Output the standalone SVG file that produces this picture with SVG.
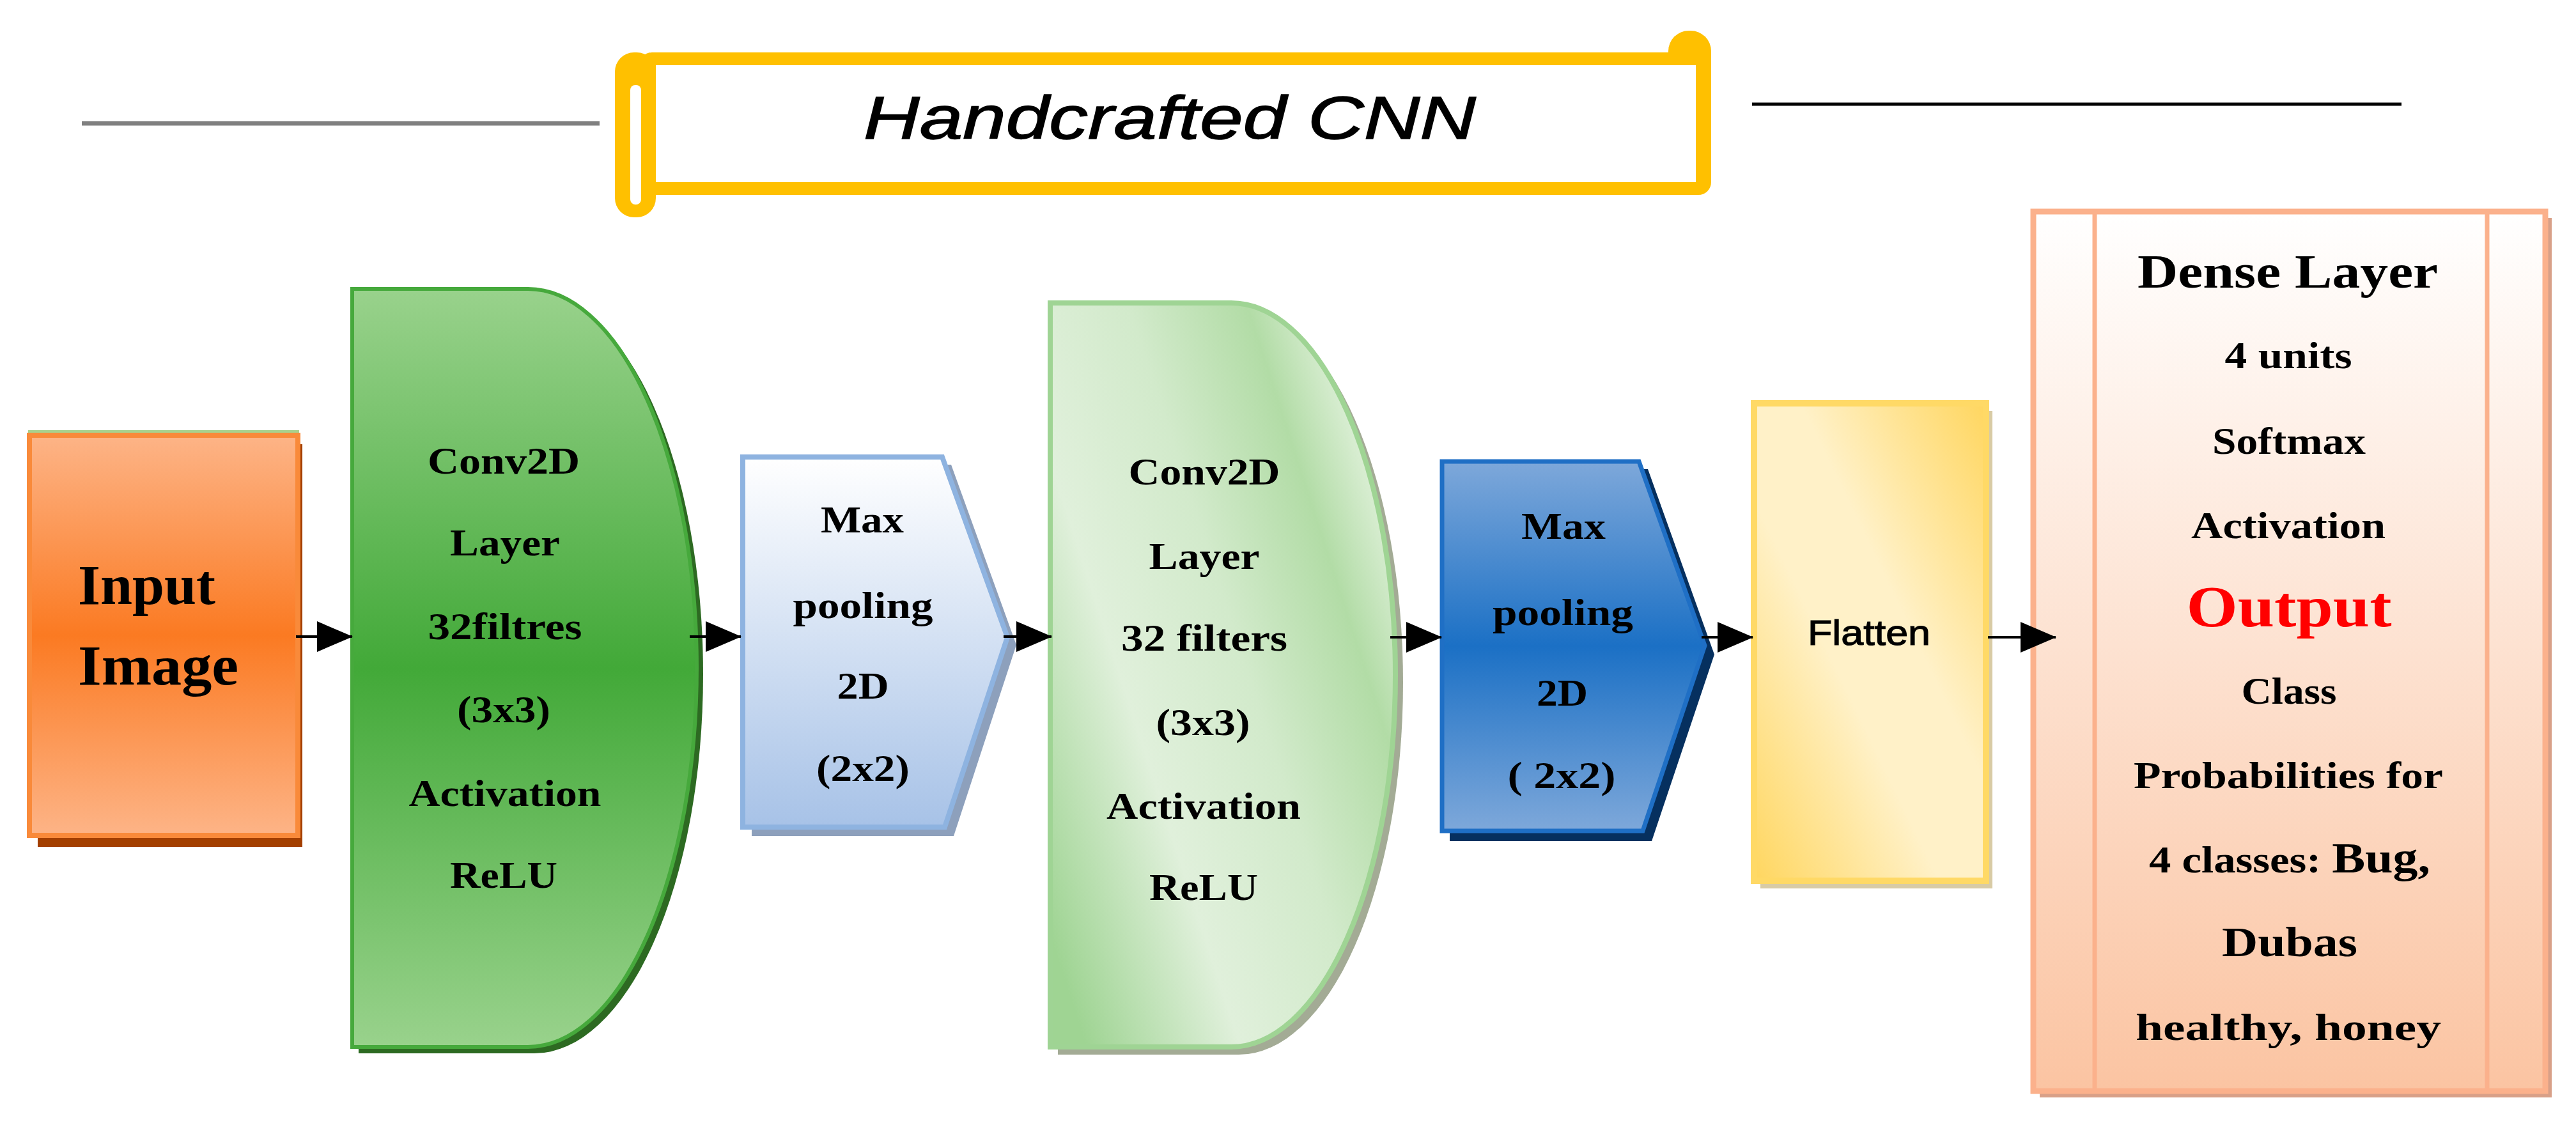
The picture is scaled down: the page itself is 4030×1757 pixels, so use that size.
<svg xmlns="http://www.w3.org/2000/svg" width="4030" height="1757" viewBox="0 0 4030 1757">
<defs>
  <linearGradient id="gIn" x1="0" y1="0" x2="0" y2="1">
    <stop offset="0" stop-color="#fdb487"/><stop offset="0.5" stop-color="#fb7a22"/><stop offset="1" stop-color="#fdb487"/>
  </linearGradient>
  <linearGradient id="gC1" x1="0" y1="0" x2="0" y2="1">
    <stop offset="0" stop-color="#99d28c"/><stop offset="0.5" stop-color="#42a938"/><stop offset="1" stop-color="#99d28c"/>
  </linearGradient>
  <linearGradient id="gC2" x1="0" y1="0.85" x2="1" y2="0.15">
    <stop offset="0" stop-color="#9fd493"/><stop offset="0.3" stop-color="#e0f0db"/><stop offset="0.55" stop-color="#d2eacb"/><stop offset="0.78" stop-color="#b2dca6"/><stop offset="0.92" stop-color="#dcefd6"/><stop offset="1" stop-color="#cbe7c3"/>
  </linearGradient>
  <linearGradient id="gM1" x1="0" y1="0" x2="0" y2="1">
    <stop offset="0" stop-color="#ffffff"/><stop offset="1" stop-color="#a7c2e7"/>
  </linearGradient>
  <linearGradient id="gM2" x1="0" y1="0" x2="0" y2="1">
    <stop offset="0" stop-color="#7ea8da"/><stop offset="0.5" stop-color="#1b70c5"/><stop offset="1" stop-color="#7ea8da"/>
  </linearGradient>
  <linearGradient id="gFl" x1="0" y1="1" x2="1" y2="0">
    <stop offset="0" stop-color="#ffd65f"/><stop offset="0.4" stop-color="#fff1c8"/><stop offset="0.6" stop-color="#fff1c8"/><stop offset="1" stop-color="#ffd65f"/>
  </linearGradient>
  <linearGradient id="gDe" x1="0" y1="0" x2="0" y2="1">
    <stop offset="0" stop-color="#ffffff"/><stop offset="1" stop-color="#fbc4a2"/>
  </linearGradient>
  <marker id="ah" markerUnits="userSpaceOnUse" markerWidth="56" markerHeight="48" refX="55" refY="24" orient="auto">
    <path d="M0,0 L56,24 L0,48 Z" fill="#000"/>
  </marker>
</defs>
<style>
  .t{font-family:"Liberation Serif","Times New Roman",serif;font-weight:bold;fill:#000;text-anchor:middle;font-size:60px}
  .big{font-size:88px;text-anchor:start}
  .hd{font-size:74px}
  .out{font-size:90px;fill:#ff0000}
  .mid{font-size:66px}
  .conn{stroke:#000;stroke-width:4;fill:none;marker-end:url(#ah)}
  .yl{fill:#ffc000}
</style>

<g id="title">
  <line x1="128" y1="193" x2="938" y2="193" stroke="#808080" stroke-width="7"/>
  <line x1="2741" y1="163" x2="3757" y2="163" stroke="#000" stroke-width="5"/>
  <rect class="yl" x="1000" y="82" width="1677" height="223" rx="20"/>
  <rect class="yl" x="2610" y="48" width="67" height="110" rx="32"/>
  <rect class="yl" x="962" y="82" width="64" height="258" rx="30"/>
  <rect x="1026" y="102" width="1627" height="183" fill="#fff"/>
  <rect x="986" y="133" width="17" height="187" rx="8" fill="#fff"/>
  <text x="1830" y="217" font-family="'Liberation Sans',Arial,sans-serif" font-style="italic" font-size="95" text-anchor="middle" textLength="958" lengthAdjust="spacingAndGlyphs" fill="#000" stroke="#000" stroke-width="1.5">Handcrafted CNN</text>
</g>

<g id="input">
  <rect x="59" y="695" width="414" height="630" fill="#a33f00"/>
  <rect x="44" y="673" width="424" height="8" fill="#a9d18e"/>
  <rect x="46" y="681" width="420" height="626" fill="url(#gIn)" stroke="#f98a3a" stroke-width="8"/>
  <text class="t big" x="122" y="945" textLength="215" lengthAdjust="spacingAndGlyphs">Input</text>
  <text class="t big" x="122" y="1071" textLength="251" lengthAdjust="spacingAndGlyphs">Image</text>
</g>

<g id="conv1">
  <path d="M561,462 H836 A264,593 0 0 1 836,1648 H561 Z" fill="#2d6a22"/>
  <path d="M551,452 H826 A264,593 0 0 1 826,1638 H551 Z" fill="url(#gC1)" stroke="#46a93c" stroke-width="6"/>
  <text class="t" x="788" y="741" textLength="238" lengthAdjust="spacingAndGlyphs">Conv2D</text>
  <text class="t" x="790" y="869" textLength="172" lengthAdjust="spacingAndGlyphs">Layer</text>
  <text class="t" x="790" y="1000" textLength="241" lengthAdjust="spacingAndGlyphs">32filtres</text>
  <text class="t" x="788" y="1130" textLength="146" lengthAdjust="spacingAndGlyphs">(3x3)</text>
  <text class="t" x="790" y="1261" textLength="301" lengthAdjust="spacingAndGlyphs">Activation</text>
  <text class="t" x="788" y="1389" textLength="168" lengthAdjust="spacingAndGlyphs">ReLU</text>
</g>

<g id="maxpool1">
  <polygon points="1176,727 1488,727 1590,1009 1492,1308 1176,1308" fill="#8da0bc"/>
  <polygon points="1162,715 1474,715 1576,997 1478,1294 1162,1294" fill="url(#gM1)" stroke="#8eb3e0" stroke-width="8"/>
  <text class="t" x="1349" y="833" textLength="130" lengthAdjust="spacingAndGlyphs">Max</text>
  <text class="t" x="1350" y="967" textLength="219" lengthAdjust="spacingAndGlyphs">pooling</text>
  <text class="t" x="1350" y="1093" textLength="81" lengthAdjust="spacingAndGlyphs">2D</text>
  <text class="t" x="1350" y="1222" textLength="146" lengthAdjust="spacingAndGlyphs">(2x2)</text>
</g>

<g id="conv2">
  <path d="M1655,486 H1938 A257,582 0 0 1 1938,1650 H1655 Z" fill="#a3ab95"/>
  <path d="M1643,474 H1926 A257,582 0 0 1 1926,1638 H1643 Z" fill="url(#gC2)" stroke="#9fd494" stroke-width="8"/>
  <text class="t" x="1884" y="758" textLength="237" lengthAdjust="spacingAndGlyphs">Conv2D</text>
  <text class="t" x="1884" y="890" textLength="173" lengthAdjust="spacingAndGlyphs">Layer</text>
  <text class="t" x="1884" y="1018" textLength="260" lengthAdjust="spacingAndGlyphs">32 filters</text>
  <text class="t" x="1882" y="1150" textLength="147" lengthAdjust="spacingAndGlyphs">(3x3)</text>
  <text class="t" x="1883" y="1281" textLength="304" lengthAdjust="spacingAndGlyphs">Activation</text>
  <text class="t" x="1883" y="1408" textLength="170" lengthAdjust="spacingAndGlyphs">ReLU</text>
</g>

<g id="maxpool2">
  <polygon points="2268,734 2578,734 2682,1024 2584,1316 2268,1316" fill="#06305f"/>
  <polygon points="2256,722 2564,722 2667,1010 2570,1300 2256,1300" fill="url(#gM2)" stroke="#1f6fc5" stroke-width="7"/>
  <text class="t" x="2446" y="843" textLength="132" lengthAdjust="spacingAndGlyphs">Max</text>
  <text class="t" x="2445" y="978" textLength="220" lengthAdjust="spacingAndGlyphs">pooling</text>
  <text class="t" x="2444" y="1104" textLength="80" lengthAdjust="spacingAndGlyphs">2D</text>
  <text class="t" x="2443" y="1233" textLength="169" lengthAdjust="spacingAndGlyphs">( 2x2)</text>
</g>

<g id="flatten">
  <rect x="2754" y="643" width="363" height="747" fill="#d8cba5"/>
  <rect x="2744" y="631" width="363" height="747" fill="url(#gFl)" stroke="#ffd966" stroke-width="10"/>
  <text x="2924" y="1009" font-family="'Liberation Sans',Arial,sans-serif" font-size="56" text-anchor="middle" textLength="192" lengthAdjust="spacingAndGlyphs" fill="#000" stroke="#000" stroke-width="1.2">Flatten</text>
</g>

<g id="dense">
  <rect x="3191" y="341" width="801" height="1376" fill="#d8a088"/>
  <rect x="3181" y="331" width="801" height="1376" fill="url(#gDe)" stroke="#fbb18c" stroke-width="9"/>
  <line x1="3277" y1="331" x2="3277" y2="1707" stroke="#fbb18c" stroke-width="7"/>
  <line x1="3891" y1="331" x2="3891" y2="1707" stroke="#fbb18c" stroke-width="7"/>
  <text class="t hd" x="3579" y="450" textLength="470" lengthAdjust="spacingAndGlyphs">Dense Layer</text>
  <text class="t" x="3580" y="576" textLength="199" lengthAdjust="spacingAndGlyphs">4 units</text>
  <text class="t" x="3581" y="710" textLength="240" lengthAdjust="spacingAndGlyphs">Softmax</text>
  <text class="t" x="3580" y="842" textLength="304" lengthAdjust="spacingAndGlyphs">Activation</text>
  <text class="t out" x="3581" y="980" textLength="321" lengthAdjust="spacingAndGlyphs">Output</text>
  <text class="t" x="3581" y="1101" textLength="149" lengthAdjust="spacingAndGlyphs">Class</text>
  <text class="t" x="3580" y="1233" textLength="484" lengthAdjust="spacingAndGlyphs">Probabilities for</text>
  <text class="t" x="3582" y="1365" textLength="440" lengthAdjust="spacingAndGlyphs">4 classes: <tspan font-size="68">Bug,</tspan></text>
  <text class="t mid" x="3582" y="1496" textLength="212" lengthAdjust="spacingAndGlyphs">Dubas</text>
  <text class="t" x="3580" y="1627" textLength="478" lengthAdjust="spacingAndGlyphs">healthy, honey</text>
</g>

<g id="connectors">
  <line class="conn" x1="463" y1="996" x2="551" y2="996"/>
  <line class="conn" x1="1079" y1="996" x2="1159" y2="996"/>
  <line class="conn" x1="1570" y1="996" x2="1645" y2="996"/>
  <line class="conn" x1="2175" y1="997" x2="2255" y2="997"/>
  <line class="conn" x1="2662" y1="997" x2="2742" y2="997"/>
  <line class="conn" x1="3110" y1="997" x2="3216" y2="997"/>
</g>
</svg>
